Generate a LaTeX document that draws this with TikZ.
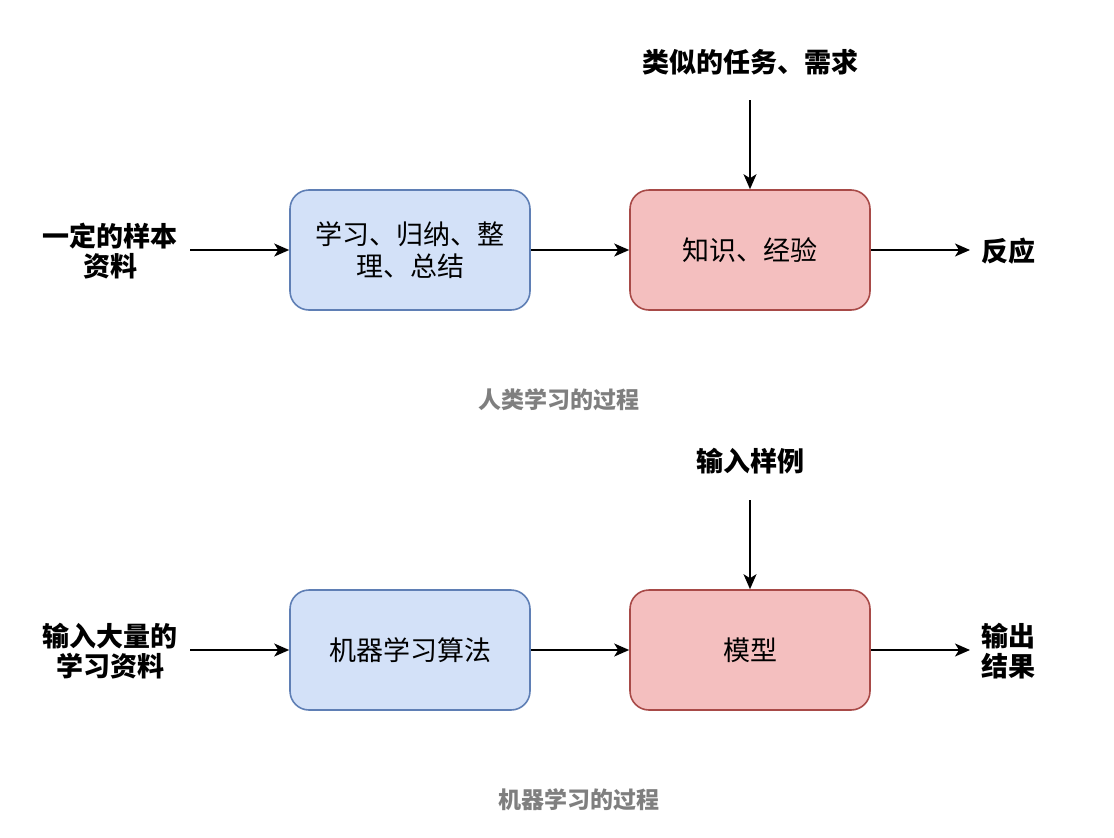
\documentclass[tikz,border=0pt]{standalone}
\usepackage{fontspec}
\newfontfamily\cjk{Noto Sans CJK SC}
\usepackage{xcolor}
\usepackage{tikz}
\usetikzlibrary{arrows.meta}
\usetikzlibrary{positioning}
\usetikzlibrary{calc}
\definecolor{blueFill}{HTML}{D3E1F8}
\definecolor{blueLine}{HTML}{5F7FB5}
\definecolor{redFill}{HTML}{F4BFBF}
\definecolor{redLine}{HTML}{A84A48}
\definecolor{capGray}{HTML}{7F7F7F}

\begin{document}
\begin{tikzpicture}[x=1pt, y=-1pt, >={Stealth[length=15pt,width=13pt,inset=4pt]},
	box/.style={draw, line width=1.6pt, rounded corners=19pt, minimum width=240pt, minimum height=120pt, align=center, font=\cjk\fontsize{27}{32}\selectfont},
	learnbox/.style={box, fill=blueFill, draw=blueLine},
	modelbox/.style={box, fill=redFill, draw=redLine},
	lbl/.style={align=center, font=\cjk\bfseries\fontsize{27}{30}\selectfont},
	caption/.style={text=capGray, font=\cjk\bfseries\fontsize{23}{28}\selectfont},
	flow/.style={->, line width=1.6pt}]
	\useasboundingbox (0,0) rectangle (1114,838);
	
	%coordinates
	\coordinate (inA)   at (190,250);
	\coordinate (outA)  at (970,250);
	\coordinate (topA)  at (750,100);
	\coordinate (inB)   at (190,650);
	\coordinate (outB)  at (970,650);
	\coordinate (topB)  at (750,500);
	
	%human learning
	\node[learnbox] (learn) at (410,250) {学习、归纳、整\\理、总结};
	\node[modelbox] (know) at (750,250) {知识、经验};
	\node[lbl] (data) at (110,251) {一定的样本\\资料};
	\node[lbl] (task) at (750,62) {类似的任务、需求};
	\node[lbl, anchor=west] (react) at (978,251) {反应};
	\node[caption] (capA) at (559,400) {人类学习的过程};
	
	\draw[flow] (inA) -- (learn.west);
	\draw[flow] (learn.east) -- (know.west);
	\draw[flow] (topA) -- (know.north);
	\draw[flow] (know.east) -- (outA);
	
	%machine learning
	\node[learnbox] (algo) at (410,650) {机器学习算法};
	\node[modelbox] (model) at (750,650) {模型};
	\node[lbl] (bigdata) at (110,651) {输入大量的\\学习资料};
	\node[lbl] (sample) at (750,461) {输入样例};
	\node[lbl, anchor=west] (result) at (978,651) {输出\\结果};
	\node[caption] (capB) at (579,800) {机器学习的过程};
	
	\draw[flow] (inB) -- (algo.west);
	\draw[flow] (algo.east) -- (model.west);
	\draw[flow] (topB) -- (model.north);
	\draw[flow] (model.east) -- (outB);
\end{tikzpicture}
\end{document}
